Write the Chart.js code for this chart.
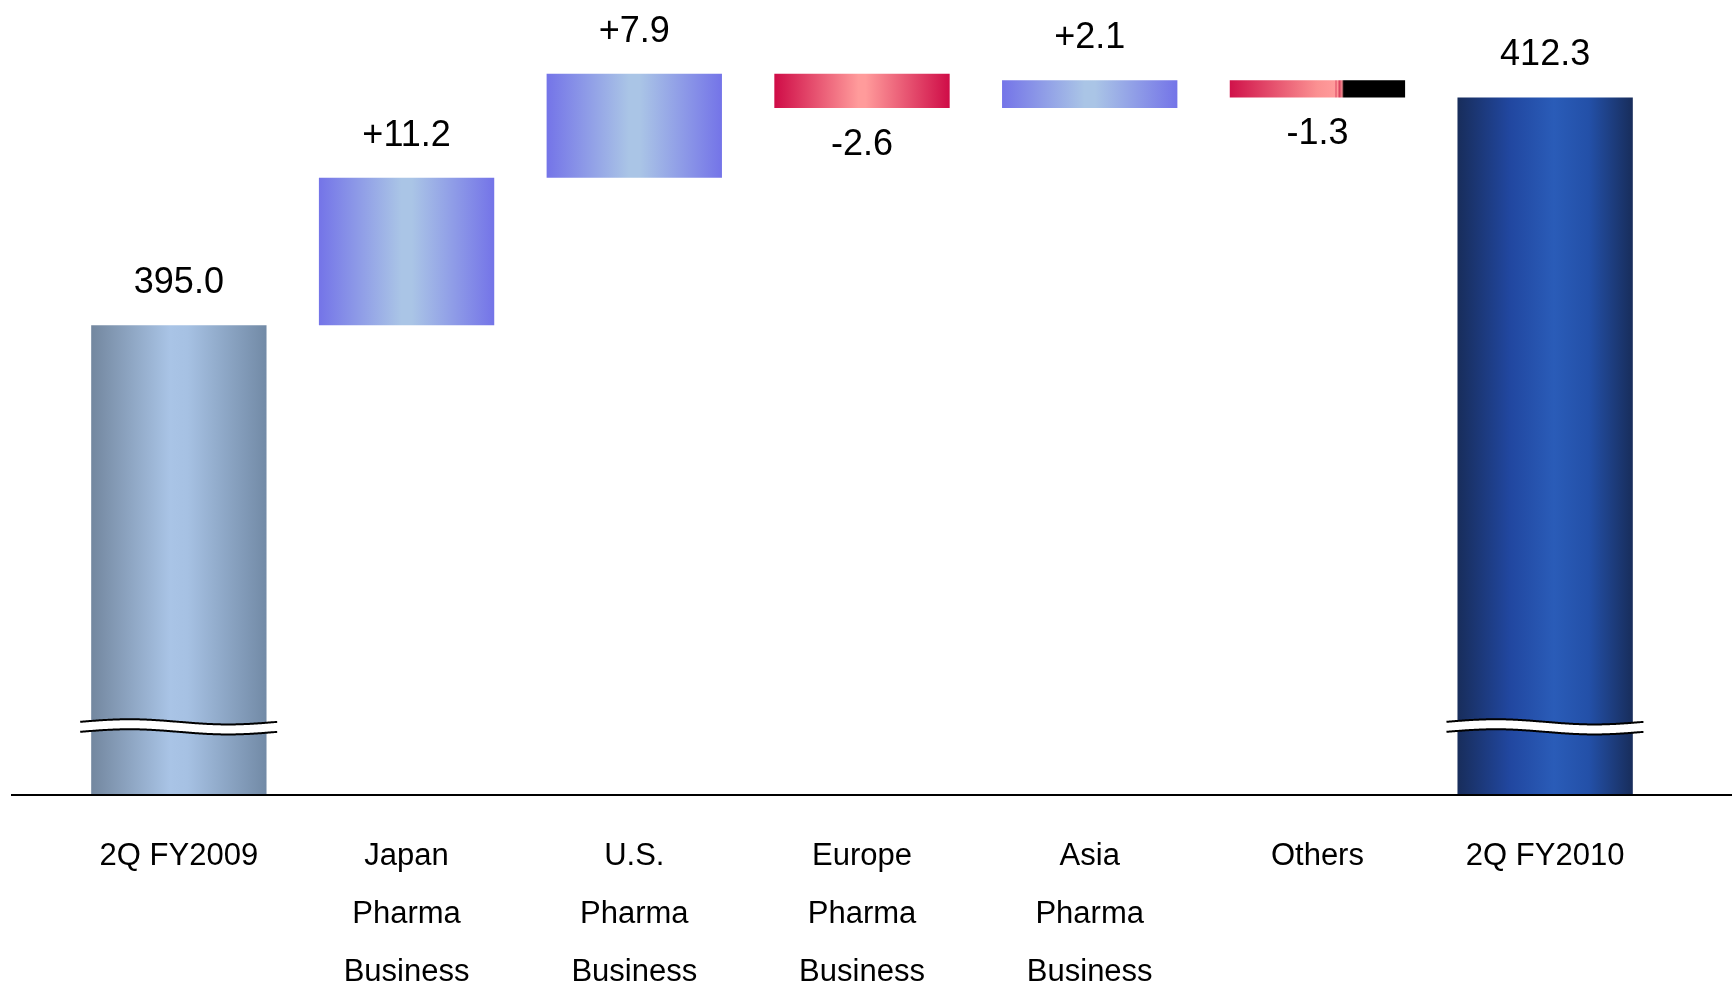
<!DOCTYPE html>
<html>
<head>
<meta charset="utf-8">
<script src="https://cdn.jsdelivr.net/npm/chart.js@4/dist/chart.umd.min.js"></script>
<style>
  html, body { margin: 0; padding: 0; background: #ffffff; }
  canvas { display: block; }
</style>
</head>
<body>
<canvas id="bridge" width="1732" height="987"></canvas>
<script>
// Net sales bridge, 2Q FY2009 -> 2Q FY2010 (billion yen)
const categories = [
  ['2Q FY2009'],
  ['Japan', 'Pharma', 'Business'],
  ['U.S.', 'Pharma', 'Business'],
  ['Europe', 'Pharma', 'Business'],
  ['Asia', 'Pharma', 'Business'],
  ['Others'],
  ['2Q FY2010']
];
const startTotal = 395.0;
const changes = [11.2, 7.9, -2.6, 2.1, -1.3];
const endTotal = 412.3;

// visible window of the broken value axis
const axisMin = 359.4;
const axisMax = 419.7;
const breakValue = 364.5;

// Build bar data: totals grow from the axis, changes float from the running sum
const barData = [startTotal];
let running = startTotal;
changes.forEach(c => {
  barData.push([running, +(running + c).toFixed(1)]);
  running += c;
});
barData.push(endTotal);

const labelText = [startTotal.toFixed(1)]
  .concat(changes.map(c => (c > 0 ? '+' : '') + c.toFixed(1)))
  .concat([endTotal.toFixed(1)]);

const isNegative = i => i > 0 && i <= changes.length && changes[i - 1] < 0;

// Horizontal colour ramps for each bar kind
const ramps = {
  startTotal: [[0, '#73879f'], [0.45, '#a9c4e6'], [0.55, '#a6c1e3'], [1, '#728aa6']],
  up: [[0, '#7474e8'], [0.47, '#aac5e6'], [0.53, '#aac5e6'], [1, '#7474e8']],
  down: [[0, '#cf0c47'], [0.48, '#ff9b9b'], [0.52, '#ff9b9b'], [1, '#cf0c47']],
  others: [[0, '#d0124a'], [0.5, '#fb9192'], [0.6, '#ff9b9b'], [0.605, '#e2546c'],
           [0.615, '#ff9b9b'], [0.625, '#d8405d'], [0.64, '#f28a90'], [0.65, '#000000'], [1, '#000000']],
  endTotal: [[0, '#182d5b'], [0.3, '#2147a0'], [0.55, '#2a5cb8'], [0.75, '#2350a8'], [1, '#182d5b']]
};

function rampFor(i) {
  if (i === 0) return ramps.startTotal;
  if (i === categories.length - 1) return ramps.endTotal;
  if (i === categories.length - 2) return ramps.others;
  return isNegative(i) ? ramps.down : ramps.up;
}

const BAR_PCT = 0.77;

function barFill(ctx) {
  const chart = ctx.chart;
  const area = chart.chartArea;
  const xs = chart.scales.x;
  if (!area || !xs) return '#a9c4e6';
  const i = ctx.dataIndex;
  const cx = xs.getPixelForValue(i);
  const half = (xs.width / categories.length) * BAR_PCT / 2;
  const g = chart.ctx.createLinearGradient(cx - half, 0, cx + half, 0);
  rampFor(i).forEach(([p, c]) => g.addColorStop(p, c));
  return g;
}

// Wavy double line marking the axis break on the total bars
const breakMarks = {
  id: 'breakMarks',
  afterDatasetsDraw(chart) {
    const ctx = chart.ctx;
    const meta = chart.getDatasetMeta(0);
    const yc = chart.scales.y.getPixelForValue(breakValue);
    [0, categories.length - 1].forEach(i => {
      const bar = meta.data[i];
      const L = bar.x - bar.width / 2 - 11;
      const R = bar.x + bar.width / 2 + 11;
      const amp = 2.6, gap = 5;
      const wave = (x, off) => yc + off - amp * Math.sin(2 * Math.PI * (x - L) / (R - L));
      ctx.save();
      ctx.beginPath();
      for (let x = L; x <= R; x += 1) ctx.lineTo(x, wave(x, -gap));
      for (let x = R; x >= L; x -= 1) ctx.lineTo(x, wave(x, gap));
      ctx.closePath();
      ctx.fillStyle = '#ffffff';
      ctx.fill();
      ctx.strokeStyle = '#000000';
      ctx.lineWidth = 2;
      [-gap, gap].forEach(off => {
        ctx.beginPath();
        for (let x = L; x <= R; x += 1) ctx.lineTo(x, wave(x, off));
        ctx.stroke();
      });
      ctx.restore();
    });
  }
};

// Value labels, baseline rule and multi-line category labels
const annotations = {
  id: 'annotations',
  afterDraw(chart) {
    const ctx = chart.ctx;
    const area = chart.chartArea;
    const meta = chart.getDatasetMeta(0);
    const xs = chart.scales.x;
    ctx.save();

    // baseline rule
    ctx.strokeStyle = '#000000';
    ctx.lineWidth = 2;
    ctx.beginPath();
    ctx.moveTo(11, area.bottom + 1);
    ctx.lineTo(chart.width, area.bottom + 1);
    ctx.stroke();

    // value labels
    ctx.fillStyle = '#000000';
    ctx.textAlign = 'center';
    ctx.textBaseline = 'middle';
    ctx.font = '36px "Liberation Sans", Arial, sans-serif';
    meta.data.forEach((bar, i) => {
      const top = Math.min(bar.y, bar.base);
      const bottom = Math.max(bar.y, bar.base);
      const y = isNegative(i) ? bottom + 37 : top - 42;
      ctx.fillText(labelText[i], bar.x, y);
    });

    // category labels
    ctx.font = '31px "Liberation Sans", Arial, sans-serif';
    categories.forEach((lines, i) => {
      const x = xs.getPixelForValue(i);
      lines.forEach((t, k) => ctx.fillText(t, x, area.bottom + 62 + k * 58));
    });
    ctx.restore();
  }
};

new Chart(document.getElementById('bridge'), {
  type: 'bar',
  data: {
    labels: categories.map(c => c.join(' ')),
    datasets: [{
      data: barData,
      backgroundColor: barFill,
      borderWidth: 0,
      barPercentage: BAR_PCT,
      categoryPercentage: 1
    }]
  },
  options: {
    responsive: false,
    animation: false,
    devicePixelRatio: 1,
    layout: { padding: { left: 65, right: 73, top: 0, bottom: 193 } },
    plugins: {
      legend: { display: false },
      tooltip: { enabled: false },
      title: { display: false }
    },
    scales: {
      x: { display: false, grid: { display: false } },
      y: { display: false, min: axisMin, max: axisMax, grid: { display: false } }
    }
  },
  plugins: [breakMarks, annotations]
});
</script>
</body>
</html>
